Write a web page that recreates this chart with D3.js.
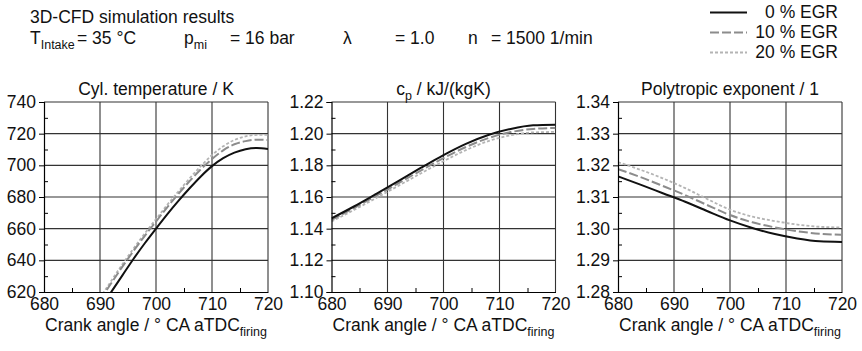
<!DOCTYPE html>
<html>
<head>
<meta charset="utf-8">
<script src="https://cdn.jsdelivr.net/npm/d3@7"></script>
<style>
  html, body { margin: 0; padding: 0; background: #fff; }
  svg text { font-family: "Liberation Sans", Arial, sans-serif; fill: #111; }
</style>
</head>
<body>
<svg id="chart" width="862" height="351"></svg>
<script>
// Crank angle grids (° CA aTDC firing)
const tempAngle = [690, 692, 694, 696, 698, 700, 702, 704, 706, 708, 710, 712, 714, 716, 718, 720];
const angle = [680, 684, 688, 692, 696, 700, 704, 708, 712, 716, 720];

// Cylinder temperature / K
const temp0  = [610, 620, 630.5, 641, 650.8, 660, 669, 677.5, 685.5, 693, 699.5, 704.5, 708, 710.2, 711, 710.3];
const temp10 = [615, 625.5, 636, 646, 655.5, 664.5, 673.5, 682, 690, 697.5, 704, 709.5, 713.3, 715.3, 716.2, 716];
const temp20 = [616, 627, 637.5, 647.5, 657, 666, 675, 683.5, 691.8, 699.5, 706.5, 712, 716, 718.3, 719.2, 719.3];

// Specific heat capacity cp / kJ/(kgK)
const cp0  = [1.1465, 1.1540, 1.1620, 1.1702, 1.1785, 1.1865, 1.1936, 1.1992, 1.2030, 1.2053, 1.2057];
const cp10 = [1.1455, 1.1530, 1.1608, 1.1688, 1.1768, 1.1846, 1.1916, 1.1972, 1.2010, 1.2030, 1.2036];
const cp20 = [1.1445, 1.1518, 1.1594, 1.1672, 1.1750, 1.1826, 1.1896, 1.1953, 1.1990, 1.2008, 1.2011];

// Polytropic exponent / 1
const poly0  = [1.3165, 1.3139, 1.3112, 1.3085, 1.3055, 1.3026, 1.3002, 1.2983, 1.2969, 1.2960, 1.2958];
const poly10 = [1.3188, 1.3163, 1.3135, 1.3106, 1.3074, 1.3043, 1.3020, 1.3004, 1.2992, 1.2984, 1.2981];
const poly20 = [1.3210, 1.3186, 1.3159, 1.3128, 1.3093, 1.3060, 1.3038, 1.3024, 1.3013, 1.3006, 1.3004];

// Axis ticks
const xTicks = [680, 690, 700, 710, 720];
const xMinor = [685, 695, 705, 715];
const tempTicks = [620, 640, 660, 680, 700, 720, 740];
const cpTicks = [1.10, 1.12, 1.14, 1.16, 1.18, 1.20, 1.22];
const polyTicks = [1.28, 1.29, 1.30, 1.31, 1.32, 1.33, 1.34];

const seriesNames = ["0 % EGR", "10 % EGR", "20 % EGR"];
const seriesStyle = [
  { color: "#111", width: 2, dash: null },
  { color: "#8c8c8c", width: 2, dash: "9,3" },
  { color: "#b4b4b4", width: 1.8, dash: "3,2" }
];

const svg = d3.select("#chart");
const FS = 17.5;
const SUB = 12.5;

// Header
svg.append("text").attr("x", 30).attr("y", 23).attr("font-size", FS).text("3D-CFD simulation results");
const hdr = (x, main, sub) => {
  const t = svg.append("text").attr("x", x).attr("y", 44).attr("font-size", FS);
  t.append("tspan").text(main);
  if (sub) t.append("tspan").attr("font-size", SUB).attr("dy", 5).text(sub);
};
hdr(30, "T", "Intake");
hdr(77, "= 35 °C");
hdr(184, "p", "mi");
hdr(230, "= 16 bar");
hdr(343, "λ");
hdr(395, "= 1.0");
hdr(468, "n");
hdr(491, "= 1500 1/min");

// Legend
seriesNames.forEach((name, i) => {
  const y = 12.5 + i * 20;
  const s = seriesStyle[i];
  svg.append("line").attr("x1", 710).attr("x2", 747).attr("y1", y).attr("y2", y)
    .attr("stroke", s.color).attr("stroke-width", s.width)
    .attr("stroke-dasharray", s.dash);
  svg.append("text").attr("x", 838).attr("y", y + 5.5).attr("text-anchor", "end")
    .attr("font-size", FS).text(name);
});

const plotTop = 102, plotH = 190, plotW = 224;

const panels = [
  { x0: 44, domain: [620, 740], ticks: tempTicks, fmt: d3.format("d"),
    xs: tempAngle, series: [temp0, temp10, temp20], title: [["Cyl. temperature / K"]] },
  { x0: 331.5, domain: [1.10, 1.22], ticks: cpTicks, fmt: d3.format(".2f"),
    xs: angle, series: [cp0, cp10, cp20], title: [["c"], ["p", "sub"], [" / kJ/(kgK)"]] },
  { x0: 618, domain: [1.28, 1.34], ticks: polyTicks, fmt: d3.format(".2f"),
    xs: angle, series: [poly0, poly10, poly20], title: [["Polytropic exponent / 1"]] }
];

panels.forEach((p, pi) => {
  const g = svg.append("g").attr("transform", `translate(${p.x0},${plotTop})`);
  const x = d3.scaleLinear().domain([680, 720]).range([0, plotW]);
  const y = d3.scaleLinear().domain(p.domain).range([plotH, 0]);
  const yMinor = d3.range(p.ticks.length - 1).map(i => (p.ticks[i] + p.ticks[i + 1]) / 2);

  // grid
  g.append("g").selectAll("line").data(xTicks.slice(1)).join("line")
    .attr("x1", d => x(d)).attr("x2", d => x(d)).attr("y1", 0).attr("y2", plotH)
    .attr("stroke", "#333").attr("stroke-width", 1.1);
  g.append("g").selectAll("line").data(p.ticks.slice(1)).join("line")
    .attr("x1", 0).attr("x2", plotW).attr("y1", d => y(d)).attr("y2", d => y(d))
    .attr("stroke", "#333").attr("stroke-width", 1.1);

  // curves
  const clipId = "clip" + pi;
  g.append("clipPath").attr("id", clipId).append("rect")
    .attr("x", 0).attr("y", 0).attr("width", plotW).attr("height", plotH);
  const line = d3.line().x(d => x(d[0])).y(d => y(d[1])).curve(d3.curveMonotoneX);
  [2, 1, 0].forEach(si => {
    const s = seriesStyle[si];
    g.append("path").attr("clip-path", `url(#${clipId})`)
      .datum(p.xs.map((a, k) => [a, p.series[si][k]]))
      .attr("d", line).attr("fill", "none")
      .attr("stroke", s.color).attr("stroke-width", s.width)
      .attr("stroke-dasharray", s.dash);
  });

  // left axis: outward major ticks with labels
  const ya = g.append("g").call(d3.axisLeft(y).tickValues(p.ticks).tickFormat(p.fmt).tickSize(5).tickPadding(3));
  ya.select(".domain").attr("stroke", "#000").attr("stroke-width", 1.2);
  ya.selectAll("text").attr("font-size", FS).attr("font-family", null);
  // inward minor ticks
  const ym = g.append("g").call(d3.axisRight(y).tickValues(yMinor).tickSize(4).tickFormat(""));
  ym.select(".domain").remove();

  // bottom axis
  const xa = g.append("g").attr("transform", `translate(0,${plotH})`)
    .call(d3.axisBottom(x).tickValues(xTicks).tickFormat(d3.format("d")).tickSize(0).tickPadding(6));
  xa.select(".domain").attr("stroke", "#000").attr("stroke-width", 1.2);
  xa.selectAll("text").attr("font-size", FS).attr("font-family", null);
  const xm = g.append("g").attr("transform", `translate(0,${plotH})`)
    .call(d3.axisTop(x).tickValues(xMinor).tickSize(4).tickFormat(""));
  xm.select(".domain").remove();

  // panel title
  const t = g.append("text").attr("x", plotW / 2).attr("y", -7).attr("text-anchor", "middle").attr("font-size", FS);
  p.title.forEach(([txt, kind]) => {
    if (kind === "sub") {
      t.append("tspan").attr("font-size", SUB).attr("dy", 5).text(txt);
    } else {
      const ts = t.append("tspan").text(txt);
      if (t.selectAll("tspan").size() > 1) ts.attr("dy", -5);
    }
  });

  // x axis title
  const xt = g.append("text").attr("x", plotW / 2).attr("y", plotH + 39).attr("text-anchor", "middle").attr("font-size", FS);
  xt.append("tspan").text("Crank angle / ° CA aTDC");
  xt.append("tspan").attr("font-size", SUB).attr("dy", 5).text("firing");
});
</script>
</body>
</html>
